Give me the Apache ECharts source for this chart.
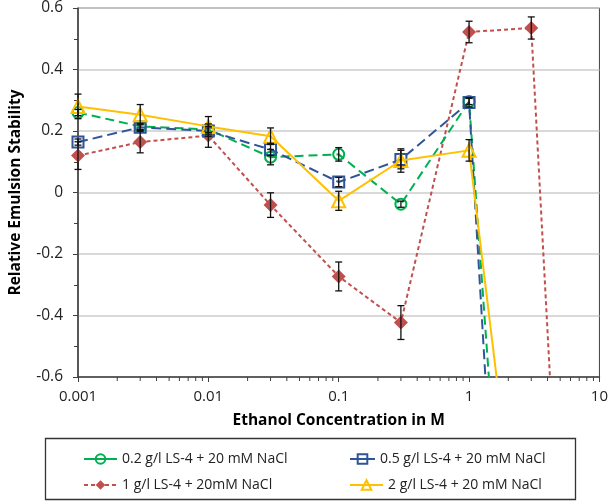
<!DOCTYPE html>
<html>
<head>
<meta charset="utf-8">
<script src="https://cdn.jsdelivr.net/npm/echarts@6/dist/echarts.min.js"></script>
<style>
html,body{margin:0;padding:0;background:#fff;}
#c{width:611px;height:502px;}
</style>
</head>
<body>
<div id="c"></div>
<script>
// ---- data ----
var xVals = [0.001, 0.003, 0.01, 0.03, 0.1, 0.3, 1, 3];
var xValsRed = [0.001, 0.003, 0.01, 0.03, 0.1, 0.3, 1, 3, 10];
var green = [0.26, 0.215, 0.205, 0.115, 0.124, -0.038, 0.296, -2.52];
var greenErr = [0.01, 0.01, 0.01, 0.025, 0.022, 0.01, 0.01, null];
var blue = [0.164, 0.212, 0.2, 0.14, 0.034, 0.107, 0.293, -3.11];
var blueErr = [0.01, 0.01, 0.01, 0.02, 0.015, 0.03, 0.015, null];
var red = [0.12, 0.164, 0.185, -0.041, -0.273, -0.423, 0.522, 0.535, -3.6];
var redErr = [0.045, 0.035, 0.038, 0.04, 0.047, 0.055, 0.035, 0.036, null];
var yellow = [0.28, 0.253, 0.215, 0.183, -0.027, 0.104, 0.137, -1.53];
var yellowErr = [0.04, 0.033, 0.032, 0.027, 0.031, 0.038, 0.035, null];
var names = ['0.2 g/l LS-4 + 20 mM NaCl', '0.5 g/l LS-4 + 20 mM NaCl', '1 g/l LS-4 + 20mM NaCl', '2 g/l LS-4 + 20 mM NaCl'];
var xMajor = [0.001, 0.01, 0.1, 1, 10];
var minorMult = [2, 3, 4, 5, 6, 7, 8, 9];
var yMin = -0.6, yMax = 0.6, yStep = 0.2;

var FONT = '"Open Sans", sans-serif';
var COL = { green: '#00B050', blue: '#2F5597', red: '#C0504D', yellow: '#FFC000' };

function pairs(xs, ys) { return xs.map(function (x, i) { return [x, ys[i]]; }); }
function errData(xs, ys, es) {
  var out = [];
  xs.forEach(function (x, i) { if (es[i] != null) out.push([x, ys[i], es[i]]); });
  return out;
}
var minorTicks = [];
xMajor.slice(0, -1).forEach(function (d) { minorMult.forEach(function (m) { minorTicks.push([d * m, yMin]); }); });

function errRender(params, api) {
  var x = api.value(0), y = api.value(1), e = api.value(2);
  var t = api.coord([x, y + e]), b = api.coord([x, y - e]);
  var w = 3.5, st = { stroke: '#111', lineWidth: 1.3 };
  return { type: 'group', children: [
    { type: 'line', shape: { x1: t[0], y1: t[1], x2: b[0], y2: b[1] }, style: st },
    { type: 'line', shape: { x1: t[0] - w, y1: t[1], x2: t[0] + w, y2: t[1] }, style: st },
    { type: 'line', shape: { x1: b[0] - w, y1: b[1], x2: b[0] + w, y2: b[1] }, style: st }
  ]};
}
function tickRender(params, api) {
  var p = api.coord([api.value(0), api.value(1)]);
  return { type: 'line', shape: { x1: p[0], y1: p[1], x2: p[0], y2: p[1] + 4 }, style: { stroke: '#404040', lineWidth: 1 } };
}

function lineSeries(name, xs, ys, color, dash, symbol, size, filled, z) {
  return {
    name: name, type: 'line', data: pairs(xs, ys), z: z,
    symbol: symbol, symbolSize: size, showAllSymbol: true,
    lineStyle: { color: color, width: 2, type: dash },
    itemStyle: { color: filled ? color : 'rgba(255,255,255,0)', borderColor: color, borderWidth: filled ? 0 : 2 },
    emphasis: { disabled: true }, animation: false, clip: true
  };
}
var legTxt = { fontFamily: FONT, fontSize: 14, color: '#222', lineHeight: 14 };
function leg(name, left, top, w, solid) {
  var item = { name: name };
  if (solid) item.lineStyle = { type: 'solid' };
  return { left: left, top: top, itemWidth: w, itemHeight: 12, itemGap: 0, data: [item], textStyle: legTxt, selectedMode: false };
}

var chart = echarts.init(document.getElementById('c'), null, { renderer: 'canvas' });
chart.setOption({
  animation: false,
  backgroundColor: '#fff',
  grid: { left: 68, right: 8, top: 6, bottom: 125, show: true, borderColor: '#404040', borderWidth: 1 },
  xAxis: {
    type: 'log', logBase: 10, min: xMajor[0], max: xMajor[xMajor.length - 1],
    name: 'Ethanol Concentration in M', nameLocation: 'middle', nameGap: 36,
    nameTextStyle: { fontFamily: FONT, fontSize: 15.5, fontWeight: 'bold', color: '#000' },
    axisLine: { onZero: false, lineStyle: { color: '#404040', width: 1.5 } },
    axisTick: { show: true, length: 5, lineStyle: { color: '#404040' } },
    axisLabel: { fontFamily: FONT, fontSize: 15, color: '#222', margin: 12,
      formatter: function (v) { return String(+v.toPrecision(6)); } },
    splitLine: { show: false }
  },
  yAxis: {
    type: 'value', min: yMin, max: yMax, interval: yStep,
    name: 'Relative Emulsion Stability', nameLocation: 'middle', nameGap: 54, nameRotate: 90,
    nameTextStyle: { fontFamily: FONT, fontSize: 15.5, fontWeight: 'bold', color: '#000' },
    axisLine: { show: true, onZero: false, lineStyle: { color: '#404040', width: 1.5 } },
    axisTick: { show: true, length: 5, lineStyle: { color: '#404040' } },
    minorTick: { show: true, splitNumber: 2, length: 4, lineStyle: { color: '#404040' } },
    axisLabel: { fontFamily: FONT, fontSize: 15.5, color: '#222', margin: 15,
      formatter: function (v) { return String(+v.toFixed(2)); } },
    splitLine: { show: true, lineStyle: { color: '#CCCCCC', width: 1.5 } }
  },
  legend: [
    leg(names[0], 78, 447, 33, true),
    leg(names[2], 78, 473, 33, false),
    leg(names[1], 344, 447, 25, true),
    leg(names[3], 344, 473, 33, true)
  ],
  graphic: [
    { type: 'rect', shape: { x: 45.5, y: 438.5, width: 530, height: 61 }, style: { fill: 'none', stroke: '#333', lineWidth: 1.3 }, z: -1 }
  ],
  series: [
    lineSeries(names[2], xValsRed, red, COL.red, [4, 3], 'diamond', 14, true, 2),
    lineSeries(names[0], xVals, green, COL.green, [9, 5], 'circle', 11, false, 3),
    lineSeries(names[1], xVals, blue, COL.blue, [10, 5], 'rect', 11, false, 4),
    lineSeries(names[3], xVals, yellow, COL.yellow, 'solid', 'triangle', 13, false, 5),
    { type: 'custom', renderItem: errRender, data: errData(xValsRed, red, redErr), z: 10, silent: true },
    { type: 'custom', renderItem: errRender, data: errData(xVals, green, greenErr), z: 10, silent: true },
    { type: 'custom', renderItem: errRender, data: errData(xVals, blue, blueErr), z: 10, silent: true },
    { type: 'custom', renderItem: errRender, data: errData(xVals, yellow, yellowErr), z: 10, silent: true },
    { type: 'custom', renderItem: tickRender, data: minorTicks, z: 10, silent: true, clip: false }
  ]
});
</script>
</body>
</html>
